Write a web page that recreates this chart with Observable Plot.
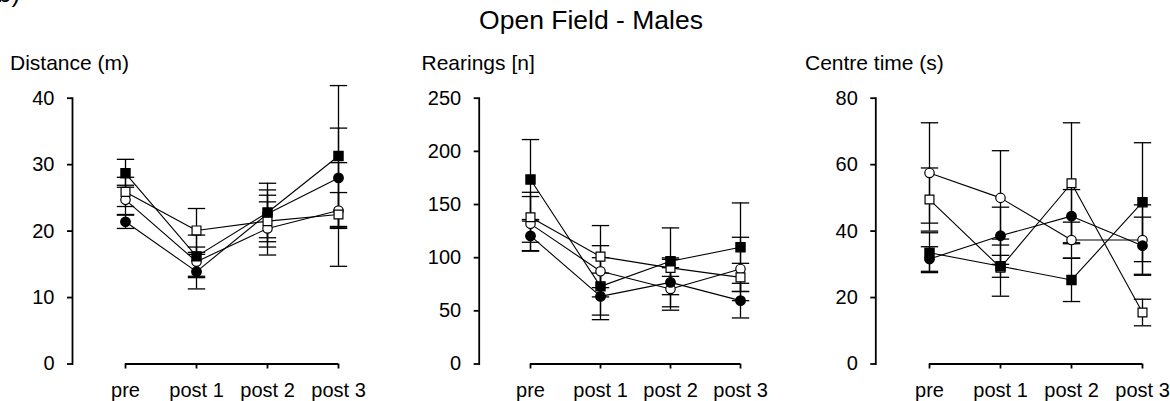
<!DOCTYPE html>
<html><head><meta charset="utf-8">
<script src="https://cdn.jsdelivr.net/npm/d3@7"></script>
<script src="https://cdn.jsdelivr.net/npm/@observablehq/plot@0.6"></script>
<style>
body{margin:0;background:#fff;}
#wrap{position:relative;width:1170px;height:401px;overflow:hidden;background:#fff;font-family:"Liberation Sans",Arial,sans-serif;color:#000;}
.lbl{position:absolute;white-space:nowrap;line-height:1;}
.panel{position:absolute;top:0;width:390px;height:401px;}
</style></head><body>
<div id="wrap">
  <div class="lbl" style="left:-3px;top:-20px;font-size:26px">b)</div>
  <div class="lbl" style="left:0;width:1182px;text-align:center;top:7px;font-size:26.5px">Open Field - Males</div>
  <div class="lbl" style="left:10px;top:52px;font-size:21px">Distance (m)</div>
  <div class="lbl" style="left:421.5px;top:52px;font-size:21px">Rearings [n]</div>
  <div class="lbl" style="left:805px;top:52px;font-size:21px">Centre time (s)</div>
  <div class="panel" id="p1" style="left:0px"></div>
  <div class="panel" id="p2" style="left:390px"></div>
  <div class="panel" id="p3" style="left:780px"></div>
</div>
<script>
// ---- data ----
const timepoints = ["pre", "post 1", "post 2", "post 3"];
// groups: G1 = filled circle, G2 = open circle, G3 = filled square, G4 = open square
const groups = ["G1", "G2", "G3", "G4"];

const distanceTicks = [0, 10, 20, 30, 40];
const distanceMean = [
  [21.4, 13.9, 22.6, 28.0],
  [24.7, 15.4, 20.4, 23.1],
  [28.7, 16.2, 22.8, 31.3],
  [25.9, 20.1, 21.5, 22.5]
];
const distanceSE = [
  [1.0, 2.6, 3.6, 7.5],
  [2.2, 2.2, 4.0, 2.7],
  [2.1, 3.2, 4.4, 10.6],
  [2.2, 3.3, 3.9, 7.8]
];

const rearingsTicks = [0, 50, 100, 150, 200, 250];
const rearingsMean = [
  [120.5, 63.6, 76.8, 59.6],
  [131.8, 87.2, 70.6, 89.4],
  [173.5, 73.0, 96.6, 109.8],
  [138.0, 101.0, 90.4, 81.5]
];
const rearingsSE = [
  [13.9, 21.9, 23.0, 16.3],
  [25.7, 24.1, 20.0, 29.8],
  [37.6, 27.0, 31.4, 41.7],
  [23.5, 29.2, 8.0, 13.2]
];

const centreTicks = [0, 20, 40, 60, 80];
const centreMean = [
  [31.6, 38.6, 44.5, 35.6],
  [57.5, 50.0, 37.3, 37.3],
  [33.5, 29.4, 25.3, 48.7],
  [49.5, 29.0, 54.4, 15.5]
];
const centreSE = [
  [3.7, 8.6, 8.0, 8.6],
  [15.1, 14.2, 5.4, 10.6],
  [6.0, 3.3, 6.5, 17.9],
  [9.5, 8.6, 18.2, 4.0]
];

// ---- drawing ----
const capSymbol = {
  draw(ctx, size) {
    const r = Math.sqrt(size / Math.PI);
    ctx.moveTo(-r, 0);
    ctx.lineTo(r, 0);
  }
};

const markerStyle = {
  G1: {symbol: "circle", fill: "black", r: 4.8},
  G2: {symbol: "circle", fill: "white", r: 4.7},
  G3: {symbol: "square", fill: "black", r: 5.2},
  G4: {symbol: "square", fill: "white", r: 5.0}
};
const drawOrder = ["G2", "G1", "G4", "G3"];

function rowsOf(mean, se) {
  const rows = [];
  groups.forEach((g, gi) => timepoints.forEach((t, ti) => {
    rows.push({group: g, t, mean: mean[gi][ti], se: se[gi][ti]});
  }));
  return rows;
}

function panel(el, mean, se, ticks, marginLeft, xRange) {
  const rows = rowsOf(mean, se);
  const yMax = ticks[ticks.length - 1];
  const marks = [
    Plot.frame({anchor: "left", strokeWidth: 1.8}),
    Plot.ruleY([{y: 0, a: timepoints[0], b: timepoints[timepoints.length - 1]}], {y: "y", x1: "a", x2: "b", strokeWidth: 1.8}),
    Plot.axisY({ticks, tickSize: 5, tickPadding: 13, strokeWidth: 1.8, label: null, tickFormat: d => String(d)}),
    Plot.axisX({tickSize: 5, tickPadding: 14, strokeWidth: 1.8, label: null}),
    Plot.ruleX(rows, {x: "t", y1: d => d.mean - d.se, y2: d => d.mean + d.se, strokeWidth: 1.3}),
    Plot.dot(rows, {x: "t", y: d => d.mean + d.se, symbol: capSymbol, r: 8.7, fill: "none", stroke: "black", strokeWidth: 1.3}),
    Plot.dot(rows, {x: "t", y: d => d.mean - d.se, symbol: capSymbol, r: 8.7, fill: "none", stroke: "black", strokeWidth: 1.3}),
    Plot.line(rows, {x: "t", y: "mean", z: "group", stroke: "black", strokeWidth: 1.1})
  ];
  for (const g of drawOrder) {
    const s = markerStyle[g];
    marks.push(Plot.dot(rows.filter(d => d.group === g), {
      x: "t", y: "mean", symbol: s.symbol, r: s.r, fill: s.fill, stroke: "black", strokeWidth: 1.2
    }));
  }
  const svg = Plot.plot({
    width: 390, height: 401,
    marginLeft, marginRight: 0, marginTop: 97.7, marginBottom: 37.5,
    style: {fontFamily: "'Liberation Sans', Arial, sans-serif", fontSize: "20px", color: "black", background: "transparent", overflow: "visible"},
    x: {type: "point", domain: timepoints, range: xRange, padding: 0, label: null},
    y: {domain: [0, yMax], label: null},
    marks
  });
  document.getElementById(el).appendChild(svg);
}

panel("p1", distanceMean, distanceSE, distanceTicks, 72, [124, 338.3]);
panel("p2", rearingsMean, rearingsSE, rearingsTicks, 88.7, [140, 350]);
panel("p3", centreMean, centreSE, centreTicks, 95.3, [147.3, 362.7]);
</script>
</body></html>
